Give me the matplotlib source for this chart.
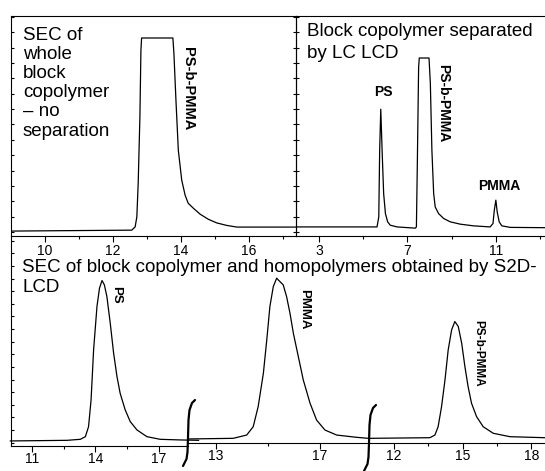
import matplotlib
matplotlib.use('Agg')
import matplotlib.pyplot as plt
from matplotlib.lines import Line2D
from matplotlib.ticker import FixedLocator, MultipleLocator

plt.rcParams['font.family'] = ['Liberation Sans', 'DejaVu Sans']

# SEC trace of the whole block copolymer (detector saturates at the top)
sec_x = [9.0, 12.55, 12.65, 12.70, 12.74, 12.79, 12.82, 12.84, 13.76, 13.79, 13.85,
         13.92, 14.02, 14.12, 14.21, 14.36, 14.56, 14.80, 15.05, 15.34, 15.64, 17.40]
sec_y = [0.07, 0.13, 0.34, 0.99, 3.18, 7.47, 11.82, 12.62, 12.62, 11.63, 8.57,
         5.32, 3.38, 2.40, 1.88, 1.56, 1.17, 0.84, 0.60, 0.44, 0.33, 0.33]

# LC LCD separation of the same sample
lcd_x = [1.95, 5.63, 5.71, 5.75, 5.80, 5.86, 5.93, 6.01, 6.11, 6.23, 6.54, 7.36,
         7.41, 7.45, 7.51, 7.54, 7.98, 8.04, 8.11, 8.19, 8.26, 8.41, 8.64, 8.94,
         9.39, 9.99, 10.74, 10.87, 10.93, 11.00, 11.06, 11.15, 11.27, 11.65, 13.22]
lcd_y = [0.34, 0.34, 0.99, 5.32, 7.99, 5.32, 2.51, 1.21, 0.67, 0.45, 0.34, 0.26,
         0.34, 4.24, 10.73, 11.32, 11.32, 9.66, 5.32, 2.51, 1.64, 1.21, 0.89, 0.67,
         0.52, 0.41, 0.34, 0.56, 1.43, 2.08, 1.32, 0.67, 0.41, 0.31, 0.29]

# S2D-LCD fractions, each re-run on SEC
ps_x = [9.97, 12.66, 13.29, 13.53, 13.68, 13.80, 13.92, 14.08, 14.20, 14.32, 14.43, 14.55,
        14.71, 14.87, 15.03, 15.18, 15.42, 15.66, 15.98, 16.45, 17.08, 18.03, 18.90]
ps_y = [0.13, 0.18, 0.26, 0.47, 1.26, 3.38, 7.35, 10.79, 12.25, 12.85, 12.51, 11.58,
        9.47, 7.09, 5.23, 3.91, 2.59, 1.66, 1.00, 0.47, 0.26, 0.21, 0.18]

pmma_x = [11.95, 13.67, 14.19, 14.44, 14.63, 14.83, 14.96, 15.08, 15.21, 15.34, 15.40, 15.59,
          15.72, 15.85, 15.98, 16.17, 16.36, 16.62, 16.87, 17.19, 17.64, 18.41, 18.85]
pmma_y = [0.05, 0.10, 0.36, 1.02, 2.61, 5.26, 7.90, 10.55, 12.13, 12.80, 12.66, 12.27,
          11.34, 10.02, 8.43, 6.58, 4.73, 2.88, 1.55, 0.76, 0.36, 0.18, 0.10]

bcp_x = [10.95, 13.57, 13.79, 13.93, 14.08, 14.23, 14.37, 14.52, 14.66, 14.81, 14.96, 15.10,
         15.24, 15.39, 15.61, 15.90, 16.34, 17.07, 18.59]
bcp_y = [0.10, 0.15, 0.36, 1.02, 2.61, 4.73, 7.11, 8.70, 9.36, 8.97, 7.64, 5.79,
         4.20, 2.88, 1.82, 1.02, 0.50, 0.23, 0.15]

W, H = 545, 471
fig = plt.figure(figsize=(W / 100, H / 100), dpi=100)


def add_px_axes(left, top, right, bottom):
    return fig.add_axes([left / W, 1 - bottom / H, (right - left) / W, (bottom - top) / H])


def style(ax, xlim, ylim, major, minor, left=True, right=False, top=False, pad=2.0):
    ax.set_xlim(xlim)
    ax.set_ylim(ylim)
    ax.patch.set_alpha(0)
    ax.xaxis.set_major_locator(FixedLocator(major))
    ax.xaxis.set_minor_locator(FixedLocator(minor))
    ax.tick_params(axis='x', which='major', direction='out', length=4, width=0.8,
                   labelsize=10, pad=pad)
    ax.tick_params(axis='x', which='minor', direction='out', length=2, width=0.8)
    ax.yaxis.set_major_locator(MultipleLocator(1))
    ax.tick_params(axis='y', which='major', direction='in', length=2.5, width=0.8,
                   labelleft=False, left=left, right=right)
    for s in ax.spines.values():
        s.set_linewidth(0.8)
    ax.spines['top'].set_visible(top)
    ax.spines['right'].set_visible(right)
    ax.spines['left'].set_visible(left)


def draw_break(x0, y_top):
    dx = [7, 4, 1.5, 0.5, 0, -0.5, -1.5, -5]
    dy = [0, 3, 10, 20, 38, 52, 59, 66]
    fig.add_artist(Line2D([(x0 + d) / W for d in dx], [1 - (y_top + d) / H for d in dy],
                          color='black', lw=1.6, solid_capstyle='round'))


line_kw = dict(color='black', lw=0.9)
lab_kw = dict(fontweight='bold', ha='center', va='center')

# bottom row: broken x axis made of three panels
b1 = add_px_axes(11, 237, 188, 446)
b2 = add_px_axes(188, 234, 369, 443)
b3 = add_px_axes(369, 234, 545, 443)
style(b1, (10.0, 18.4), (-0.27, 16.3), [11, 14, 17], [12.5, 15.5], pad=0.5)
style(b2, (11.94, 18.88), (-0.27, 16.3), [13, 17], [15], left=False, pad=0.5)
style(b3, (10.91, 18.6), (-0.27, 16.3), [12, 15, 18], [13.5, 16.5], left=False, pad=0.5)
b1.plot(ps_x, ps_y, clip_on=False, **line_kw)
b2.plot(pmma_x, pmma_y, **line_kw)
b3.plot(bcp_x, bcp_y, **line_kw)
b1.text(15.0, 11.71, 'PS', rotation=-90, fontsize=9.5, **lab_kw)
b2.text(16.39, 10.37, 'PMMA', rotation=-90, fontsize=9.5, **lab_kw)
b3.text(15.69, 6.87, 'PS-b-PMMA', rotation=-90, fontsize=8.5, **lab_kw)
draw_break(188, 400)
draw_break(369, 405)

# top row
t1 = add_px_axes(11, 16, 296, 236)
t2 = add_px_axes(296, 16, 545, 236)
style(t1, (9.0, 17.38), (-0.25, 14.05), [10, 12, 14, 16], [11, 13, 15, 17],
      right=True, top=True)
style(t2, (1.97, 13.22), (-0.25, 14.05), [3, 7, 11], [5, 9, 13], top=True)
t1.plot(sec_x, sec_y, **line_kw)
t2.plot(lcd_x, lcd_y, **line_kw)

t1.text(14.2, 9.32, 'PS-b-PMMA', rotation=-90, fontsize=10.5, **lab_kw)
t2.text(5.90, 9.09, 'PS', fontsize=10, **lab_kw)
t2.text(8.62, 8.41, 'PS-b-PMMA', rotation=-90, fontsize=10, **lab_kw)
t2.text(11.15, 3.02, 'PMMA', fontsize=10, **lab_kw)

t1.text(0.042, 0.952, 'SEC of\nwhole\nblock\ncopolymer\n\u2013 no\nseparation',
        transform=t1.transAxes, fontsize=13.5, va='top', ha='left', linespacing=1.17)
t2.text(0.044, 0.967, 'Block copolymer separated\nby LC LCD',
        transform=t2.transAxes, fontsize=13.5, va='top', ha='left', linespacing=1.33)
fig.text(22 / W, 1 - 259 / H,
         'SEC of block copolymer and homopolymers obtained by S2D-',
         fontsize=13.5, va='top', ha='left')
fig.text(22 / W, 1 - 279 / H, 'LCD', fontsize=13.5, va='top', ha='left')

fig.savefig('out.png', dpi=100)
